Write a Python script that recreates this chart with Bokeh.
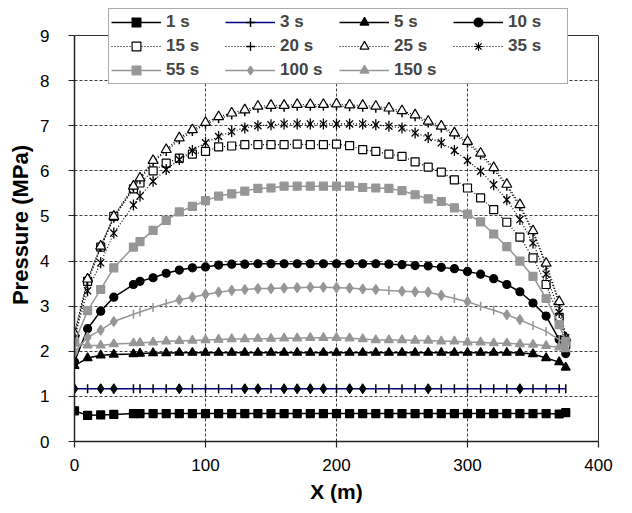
import numpy as np
from bokeh.plotting import figure
from bokeh.models import Range1d, Legend, LegendItem, FixedTicker, LinearAxis, Span
from bokeh.embed import file_html
from bokeh.resources import INLINE

# ---------------- data ----------------
x_m = [0, 10, 20, 30, 45, 50, 60, 70, 80, 90, 100, 110, 120, 130, 140, 150, 160, 170, 180, 190,
       200, 210, 220, 230, 240, 250, 260, 270, 280, 290, 300, 310, 320, 330, 340, 350, 360, 370, 375]

p_1s = [0.68, 0.58, 0.59, 0.60, 0.62, 0.62, 0.62, 0.62, 0.62, 0.62, 0.62, 0.62, 0.62, 0.62, 0.62, 0.62,
        0.62, 0.62, 0.62, 0.62, 0.62, 0.62, 0.62, 0.62, 0.62, 0.62, 0.62, 0.62, 0.62, 0.62, 0.62, 0.62,
        0.62, 0.62, 0.62, 0.62, 0.62, 0.61, 0.64]
p_3s = [1.17, 1.17, 1.17, 1.17, 1.17, 1.17, 1.17, 1.17, 1.17, 1.17, 1.17, 1.17, 1.17, 1.17, 1.17, 1.17,
        1.17, 1.17, 1.17, 1.17, 1.17, 1.17, 1.17, 1.17, 1.17, 1.17, 1.17, 1.17, 1.17, 1.17, 1.17, 1.17,
        1.17, 1.17, 1.17, 1.17, 1.17, 1.17, 1.17]
p_5s = [1.68, 1.85, 1.91, 1.93, 1.94, 1.95, 1.96, 1.96, 1.97, 1.97, 1.97, 1.97, 1.97, 1.97, 1.97, 1.97,
        1.97, 1.97, 1.97, 1.97, 1.97, 1.97, 1.97, 1.97, 1.97, 1.97, 1.97, 1.97, 1.97, 1.97, 1.97, 1.97,
        1.97, 1.97, 1.97, 1.94, 1.85, 1.76, 1.64]
p_10s = [1.77, 2.50, 2.89, 3.20, 3.48, 3.55, 3.63, 3.73, 3.80, 3.85, 3.87, 3.91, 3.93, 3.93, 3.94, 3.94,
         3.94, 3.94, 3.94, 3.94, 3.94, 3.94, 3.94, 3.94, 3.93, 3.92, 3.90, 3.89, 3.86, 3.83, 3.77, 3.71,
         3.61, 3.48, 3.32, 3.07, 2.78, 2.26, 1.95]
p_15s = [2.30, 3.55, 4.31, 4.99, 5.60, 5.73, 6.00, 6.17, 6.28, 6.37, 6.43, 6.53, 6.55, 6.58, 6.58, 6.58,
         6.58, 6.59, 6.58, 6.58, 6.59, 6.56, 6.47, 6.43, 6.37, 6.32, 6.20, 6.08, 5.97, 5.80, 5.62, 5.40,
         5.14, 4.86, 4.53, 4.07, 3.48, 2.75, 2.15]
p_20s = [2.38, 3.55, 4.30, 4.95, 5.62, 5.80, 6.20, 6.43, 6.69, 6.87, 7.03, 7.16, 7.24, 7.31, 7.39, 7.41,
         7.41, 7.43, 7.43, 7.43, 7.44, 7.42, 7.41, 7.39, 7.35, 7.29, 7.20, 7.06, 6.95, 6.80, 6.61, 6.35,
         6.03, 5.66, 5.21, 4.63, 3.90, 3.05, 2.28]
p_25s = [2.40, 3.60, 4.33, 4.99, 5.66, 5.84, 6.23, 6.47, 6.73, 6.91, 7.07, 7.20, 7.28, 7.35, 7.43, 7.45,
         7.45, 7.47, 7.47, 7.47, 7.48, 7.46, 7.45, 7.43, 7.39, 7.33, 7.24, 7.10, 6.99, 6.84, 6.65, 6.39,
         6.07, 5.70, 5.25, 4.67, 3.95, 3.10, 2.30]
p_35s = [2.30, 3.34, 3.96, 4.62, 5.24, 5.44, 5.77, 6.03, 6.25, 6.45, 6.62, 6.76, 6.87, 6.95, 7.00, 7.02,
         7.04, 7.04, 7.04, 7.04, 7.04, 7.04, 7.04, 7.02, 6.99, 6.95, 6.84, 6.74, 6.62, 6.45, 6.23, 5.99,
         5.69, 5.36, 4.92, 4.40, 3.71, 2.86, 2.30]
p_55s = [2.20, 2.90, 3.37, 3.85, 4.31, 4.43, 4.68, 4.90, 5.09, 5.21, 5.34, 5.44, 5.49, 5.55, 5.61, 5.62,
         5.66, 5.66, 5.66, 5.66, 5.66, 5.66, 5.63, 5.62, 5.61, 5.56, 5.47, 5.38, 5.32, 5.18, 5.04, 4.87,
         4.60, 4.32, 4.00, 3.66, 3.17, 2.59, 2.22]
p_100s = [1.98, 2.31, 2.47, 2.66, 2.82, 2.87, 2.97, 3.06, 3.14, 3.20, 3.26, 3.31, 3.35, 3.37, 3.39, 3.39,
          3.40, 3.41, 3.42, 3.42, 3.41, 3.40, 3.38, 3.37, 3.35, 3.33, 3.32, 3.31, 3.24, 3.17, 3.10, 3.00,
          2.91, 2.81, 2.70, 2.57, 2.44, 2.26, 2.15]
p_150s = [2.18, 2.13, 2.13, 2.16, 2.18, 2.19, 2.20, 2.22, 2.23, 2.24, 2.25, 2.26, 2.27, 2.27, 2.28, 2.28,
          2.29, 2.29, 2.30, 2.30, 2.30, 2.29, 2.27, 2.25, 2.25, 2.25, 2.24, 2.24, 2.22, 2.22, 2.20, 2.20,
          2.18, 2.18, 2.16, 2.15, 2.12, 2.09, 2.05]

# points of the 3 s curve shown with a diamond, points of the 100 s curve shown with a tick
x_3s_diamond = [0, 20, 30, 80, 130, 140, 160, 170, 180, 190, 210, 220, 270, 340]
x_100s_tick = [45, 50, 60, 70, 240, 290, 310, 320, 350, 360, 370]

x_ticks = [0, 100, 200, 300, 400]
y_ticks = [0, 1, 2, 3, 4, 5, 6, 7, 8, 9]
X_MIN, X_MAX = 0, 400
Y_MIN, Y_MAX = 0, 9

# ---------------- figure ----------------
FONT = "Liberation Sans"
GRAY = "#969696"
DOT = "1 2"
NAN = float("nan")

PLOT_H = 406          # pixel height of the 0..9 band
EXTRA_TOP = 27        # room above y=9 (inside the frame) that holds the legend
frame_h = PLOT_H + EXTRA_TOP
y_top = Y_MAX * frame_h / PLOT_H

p = figure(frame_width=524, frame_height=frame_h,
           min_border_left=74, min_border_right=34, min_border_top=35 - EXTRA_TOP, min_border_bottom=72,
           x_range=Range1d(X_MIN, X_MAX), y_range=Range1d(Y_MIN, y_top),
           output_backend="svg", toolbar_location=None)
p.background_fill_color = "white"
p.border_fill_color = "white"
p.outline_line_color = None

for ax in (p.xaxis[0], p.yaxis[0]):
    ax.axis_line_color = "#222222"
    ax.axis_line_width = 1.5
    ax.major_tick_line_color = "#222222"
    ax.major_tick_line_width = 1.2
    ax.major_tick_out = 6
    ax.major_tick_in = 0
    ax.minor_tick_line_color = None
    ax.major_label_text_font = FONT
    ax.major_label_text_font_size = "17px"
    ax.major_label_text_color = "black"
    ax.axis_label_text_font = FONT
    ax.axis_label_text_font_style = "bold"
    ax.axis_label_text_font_size = "21px"
    ax.axis_label_text_color = "black"

p.yaxis[0].axis_label_text_font_size = "22px"
p.xaxis.ticker = FixedTicker(ticks=x_ticks)
p.yaxis.ticker = FixedTicker(ticks=y_ticks)
p.yaxis.bounds = (Y_MIN, Y_MAX)
p.xaxis.axis_label = "X (m)"
p.yaxis.axis_label = "Pressure (MPa)"
p.xaxis.major_label_standoff = 11
p.yaxis.major_label_standoff = 19
p.xaxis.axis_label_standoff = 6
p.yaxis.axis_label_standoff = 4

# right border of the plot area (0..9 only)
right_ax = LinearAxis(bounds=(Y_MIN, Y_MAX), ticker=FixedTicker(ticks=[]),
                      axis_line_color="#333333", axis_line_width=1,
                      major_tick_line_color=None, minor_tick_line_color=None,
                      major_label_text_font_size="0px")
p.add_layout(right_ax, "right")
# top border of the plot area at y = 9
p.add_layout(Span(location=Y_MAX, dimension="width", line_color="#333333", line_width=1))

for g in (p.xgrid[0], p.ygrid[0]):
    g.grid_line_color = "#404040"
    g.grid_line_dash = "3 2"
    g.grid_line_width = 1
try:
    p.xgrid[0].cross_bounds = (Y_MIN, Y_MAX)
except Exception:
    p.xgrid[0].visible = False
    inner = [t for t in x_ticks if X_MIN < t < X_MAX]
    p.segment(x0=inner, y0=[Y_MIN] * len(inner), x1=inner, y1=[Y_MAX] * len(inner),
              line_color="#404040", line_dash="3 2", line_width=1)

items = []

def add_series(label, y, color, dash, lw, markers, legend_markers=None):
    line = p.line(x_m, y, line_color=color, line_width=lw, line_dash=dash)
    rs = [line]
    for m in markers:
        xs = m.get("xs", x_m)
        ys = [y[x_m.index(v)] for v in xs]
        r = p.scatter(xs, ys, marker=m["marker"], size=m["size"],
                      fill_color=m.get("fill", color), line_color=m.get("line", color),
                      line_width=m.get("lw", 1.2), angle=m.get("angle", 0.0))
        if m.get("in_legend", True):
            rs.append(r)
    # legend-only glyphs (a single NaN point, nothing drawn in the plot) for the
    # vertical-tick markers, which the legend would otherwise draw unrotated
    for m in (legend_markers or []):
        rs.append(p.scatter(x=[NAN], y=[NAN], marker=m["marker"], size=m.get("size", 9),
                            fill_color=m.get("fill", color), line_color=m.get("line", color),
                            line_width=m.get("lw", 1.3)))
    if label:
        items.append(LegendItem(label=label, renderers=rs))
    return rs

add_series("1 s", p_1s, "black", "solid", 1.5, [dict(marker="square", size=8)])
add_series("3 s", p_3s, "#000080", "solid", 1.5,
           [dict(marker="dash", size=9, angle=np.pi / 2, line="black", lw=1.5, in_legend=False)],
           [dict(marker="cross", line="black", lw=1.5)])
# diamonds drawn on the 3 s curve (no legend entry)
p.scatter(x_3s_diamond, [p_3s[x_m.index(v)] for v in x_3s_diamond], marker="diamond", size=10,
          fill_color="black", line_color="black")
add_series("5 s", p_5s, "black", "solid", 1.5, [dict(marker="triangle", size=9)])
add_series("10 s", p_10s, "black", "solid", 1.5, [dict(marker="circle", size=8)])
add_series("15 s", p_15s, "black", DOT, 1.2, [dict(marker="square", size=8, fill="white", line="black")])
add_series("20 s", p_20s, "black", DOT, 1.2,
           [dict(marker="dash", size=9, angle=np.pi / 2, line="black", lw=1.5, in_legend=False)],
           [dict(marker="cross", line="black", lw=1.3)])
add_series("25 s", p_25s, "black", DOT, 1.2, [dict(marker="triangle", size=10, fill="white", line="black")])
add_series("35 s", p_35s, "black", DOT, 1.2,
           [dict(marker="x", size=10, line="black", lw=1.3),
            dict(marker="dash", size=11, angle=np.pi / 2, line="black", lw=1.3, in_legend=False)],
           [dict(marker="cross", line="black", lw=1.0)])
add_series("55 s", p_55s, GRAY, "solid", 1.5, [dict(marker="square", size=8)])
x_100s_diamond = [v for v in x_m if v not in x_100s_tick]
add_series("100 s", p_100s, GRAY, "solid", 1.5,
           [dict(marker="diamond", size=10, xs=x_100s_diamond),
            dict(marker="dash", size=9, angle=np.pi / 2, xs=x_100s_tick, lw=1.5, in_legend=False)])
add_series("150 s", p_150s, GRAY, "solid", 1.5, [dict(marker="triangle", size=9)])

legend = Legend(items=items, location=(34, 357), orientation="horizontal", ncols=4,
                glyph_width=50, glyph_height=22, label_standoff=5, label_width=57,
                spacing=2, padding=2, margin=0,
                label_text_font=FONT, label_text_font_style="bold", label_text_font_size="17px",
                label_text_baseline="middle",
                border_line_color="#555555", border_line_width=1.5,
                background_fill_color="white", background_fill_alpha=1.0)
p.add_layout(legend)

open("out.html", "w").write(file_html(p, INLINE))
